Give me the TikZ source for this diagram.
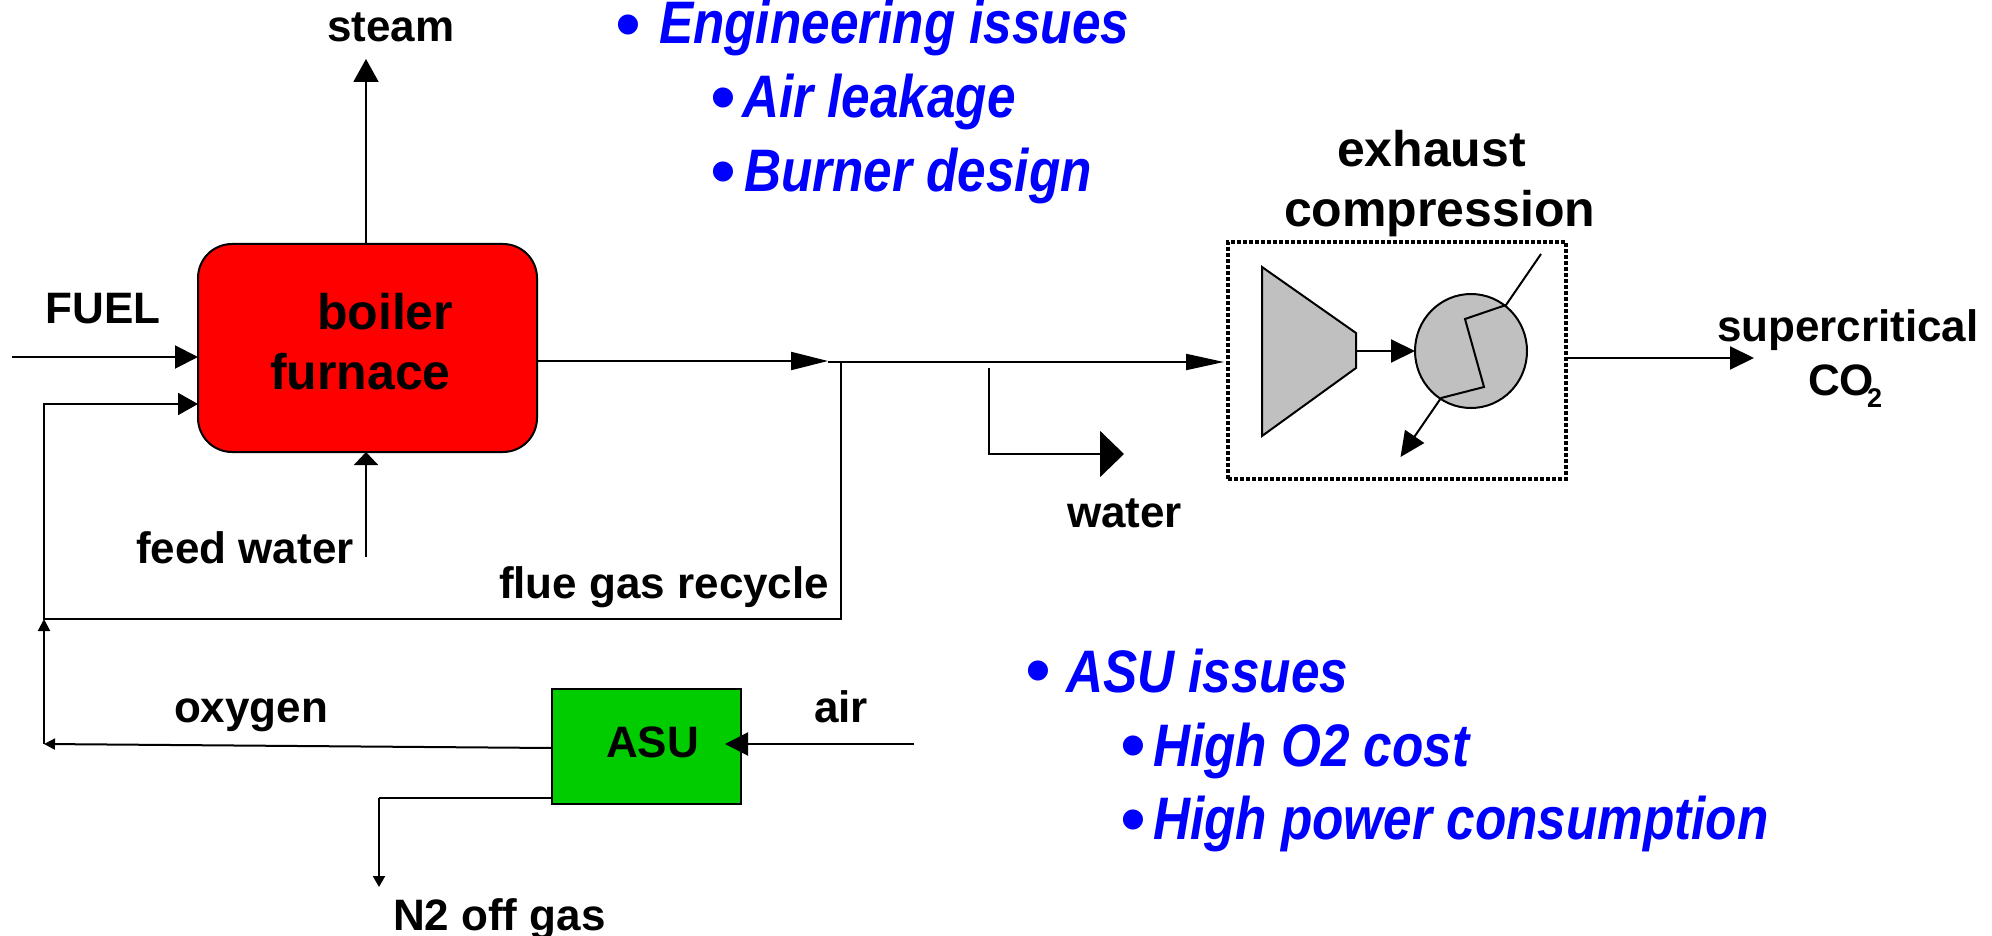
\documentclass[tikz,border=0pt]{standalone}
\usepackage{fontspec}
\setmainfont{Liberation Sans}
\newfontfamily\bluefont{Liberation Sans}[FakeStretch=0.855]
\usetikzlibrary{arrows.meta,calc,shapes.geometric}
\definecolor{asugreen}{RGB}{0,204,0}
\definecolor{unitgray}{RGB}{192,192,192}
\tikzset{
  txt/.style={inner sep=0pt,outer sep=0pt,anchor=base west,text=black,font=\fontsize{22pt}{24pt}\selectfont\bfseries},
  bigtxt/.style={txt,font=\fontsize{25pt}{28pt}\selectfont\bfseries},
  issue/.style={inner sep=0pt,outer sep=0pt,anchor=base west,text=blue,font=\bluefont\fontsize{30pt}{34pt}\selectfont\bfseries\itshape},
  dot/.style={inner sep=0pt,outer sep=0pt,anchor=center,text=blue,font=\fontsize{37pt}{40pt}\selectfont},
  flow/.style={line width=1pt,draw=black},
  head/.style 2 args={flow,-{Triangle[length=#1pt,width=#2pt]}},
  unit/.style={draw=black,line width=1pt,inner sep=0pt,outer sep=0pt},
}
\begin{document}
\begin{tikzpicture}[x=0.5pt,y=-0.5pt]
\useasboundingbox (0,0) rectangle (1992,936);
% free ends and junctions
\coordinate (fuelstart) at (12,357);
\coordinate (steamend) at (366,59);
\coordinate (feedstart) at (366,557);
\coordinate (recyclein) at (43,404);
\coordinate (corner) at (44,619);
\coordinate (split) at (841,362);
\coordinate (splitend) at (828,361);
\coordinate (waterstart) at (989,368);
\coordinate (waterbend) at (989,454);
\coordinate (waterend) at (1124,454);
\coordinate (oxyend) at (44,744);
\coordinate (airstart) at (914,744);
\coordinate (airend) at (725,744);
\coordinate (oxystart) at (552,748);
\coordinate (nbend) at (379,798);
\coordinate (nend) at (379,887);
\coordinate (scoend) at (1754,358);
\coordinate (compout) at (1356,351);
\coordinate (hxa) at (1541,254);
\coordinate (hxb) at (1506,305);
\coordinate (hxc) at (1465,319);
\coordinate (hxd) at (1484,387);
\coordinate (hxe) at (1441,398);
\coordinate (hxf) at (1400.5,457);

% boiler
\node[unit,fill=red,rounded corners=17pt,minimum width=169.5pt,minimum height=104pt] (boiler) at (367.5,348) {};
\node[bigtxt] (boilerlbl) at (317,329) {boiler};
\node[bigtxt] (furnacelbl) at (270,389) {furnace};

% ASU
\node[unit,fill=asugreen,minimum width=94.5pt,minimum height=57.5pt] (asu) at (646.5,746.5) {};
\node[txt] (asulbl) at (606,757) {ASU};

% compression
\node[draw=black,line width=1.7pt,dash pattern=on 2pt off 1pt,inner sep=0pt,outer sep=0pt,minimum width=169pt,minimum height=118.5pt] (comp) at (1397,360.5) {};
\draw[unit,fill=unitgray] (1262,267) -- (1356,333) -- (1356,368) -- (1262,436) -- cycle;
\node[unit,fill=unitgray,ellipse,minimum width=56pt,minimum height=57pt] (hx) at (1471,351) {};

% connectors
\draw[head={11.5}{11.5}] (fuelstart) -- (fuelstart -| boiler.west);
\draw[head={10}{11}] (recyclein) -- (recyclein -| boiler.west);
\draw[head={11.5}{12.5}] (boiler.north -| steamend) -- (steamend);
\draw[head={6.5}{12}] (feedstart) -- (feedstart |- boiler.south);
\draw[head={18.5}{9}] (splitend -| boiler.east) -- (splitend);
\draw[head={19}{8},shorten >=2pt] (split -| splitend) -- (split -| comp.west);
\draw[flow] (split) -- (split |- corner) -- (corner) -- (recyclein -| corner);
\draw[flow] (waterstart) -- (waterbend) -- ($(waterend)+(-20,0)$);
\draw[head={12}{23}] ($(waterend)+(-24,0)$) -- (waterend);
\draw[head={12}{11.5}] (compout) -- (compout -| hx.west);
\draw[head={12}{11.5}] (scoend -| comp.east) -- (scoend);
\draw[flow] (hxa) -- (hxb) -- (hxc) -- (hxd) -- (hxe);
\draw[head={12.5}{11.5}] (hxe) -- (hxf);
\draw[head={5.5}{5.5}] (oxystart) -- (oxyend);
\draw[head={6}{6}] (oxyend) -- (corner);
\draw[head={11.5}{11.5}] (airstart) -- (airend);
\draw[flow] (asu.west |- nbend) -- (nbend);
\draw[head={5.5}{6}] (nbend) -- (nend);

% labels
\node[txt] (steamlbl) at (327,42) {steam};
\node[txt] (fuellbl) at (46,323) {FUEL};
\node[txt] (feedlbl) at (136,563) {feed water};
\node[txt] (recyclelbl) at (499,598) {flue gas recycle};
\node[txt] (oxylbl) at (174,722) {oxygen};
\node[txt] (airlbl) at (814,722) {air};
\node[txt] (nlbl) at (393,930) {N2 off gas};
\node[txt] (waterlbl) at (1067,527) {water};
\node[bigtxt] (exlbl) at (1337,167) {exhaust};
\node[bigtxt] (complbl) at (1284,227) {compression};
\node[txt] (sclbl) at (1717,342) {supercritical};
\node[txt] (colbl) at (1808,395) {CO};
\node[txt,font=\fontsize{13.5pt}{15pt}\selectfont\bfseries] (twolbl) at (1867,408) {2};

% issues
\node[dot] (b1) at (628,32) {•};
\node[issue] (t1) at (659,44) {Engineering issues};
\node[dot] (b2) at (723,105) {•};
\node[issue] (t2) at (742,118) {Air leakage};
\node[dot] (b3) at (723,179) {•};
\node[issue] (t3) at (744,192) {Burner design};
\node[dot] (b4) at (1038,678) {•};
\node[issue] (t4) at (1066,692) {ASU issues};
\node[dot] (b5) at (1133,753) {•};
\node[issue] (t5) at (1153,766) {High O2 cost};
\node[dot] (b6) at (1133,827) {•};
\node[issue] (t6) at (1153,839) {High power consumption};
\end{tikzpicture}
\end{document}
